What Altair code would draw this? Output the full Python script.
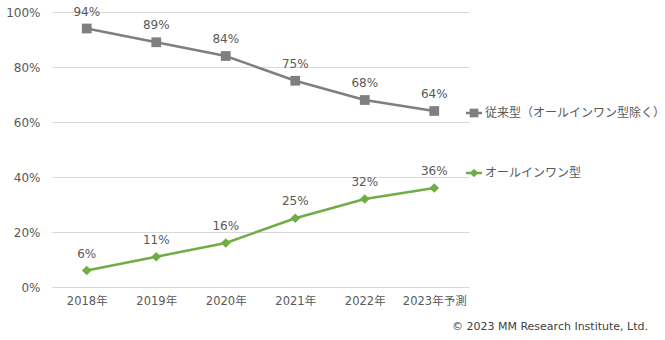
import altair as alt
import pandas as pd

years = ["2018年", "2019年", "2020年", "2021年", "2022年", "2023年予測"]
conventional = [94, 89, 84, 75, 68, 64]
allinone = [6, 11, 16, 25, 32, 36]
series_names = ["従来型（オールインワン型除く）", "オールインワン型"]
colors = ["#7f7f7f", "#70ad47"]
shapes = ["square", "diamond"]
credit = "© 2023 MM Research Institute, Ltd."

FONT = "DejaVu Sans, Noto Sans CJK JP, sans-serif"
TXT = "#595959"

rows = []
for y, a, b in zip(years, conventional, allinone):
    rows.append({"year": y, "series": series_names[0], "value": a})
    rows.append({"year": y, "series": series_names[1], "value": b})
df = pd.DataFrame(rows)

W, H = 417, 275

x = alt.X("year:N", sort=years,
          scale=alt.Scale(type="point", padding=0.5),
          axis=alt.Axis(title=None, labelAngle=0, ticks=False, domain=True,
                        domainColor="#d9d9d9", labelPadding=8, labelFontSize=11.5,
                        labelFont=FONT, labelColor=TXT, grid=False))
y = alt.Y("value:Q", scale=alt.Scale(domain=[0, 100]),
          axis=alt.Axis(title=None, values=[0, 20, 40, 60, 80, 100],
                        labelExpr="datum.value + '%'", ticks=False, domain=False,
                        gridColor="#d9d9d9", labelPadding=12, labelFontSize=12,
                        labelFont=FONT, labelColor=TXT))
color = alt.Color("series:N", scale=alt.Scale(domain=series_names, range=colors), legend=None)
shape = alt.Shape("series:N", scale=alt.Scale(domain=series_names, range=shapes), legend=None)

base = alt.Chart(df)
lines = base.mark_line(strokeWidth=2.5).encode(x=x, y=y, color=color)
pts = base.mark_point(filled=True, opacity=1, size=95).encode(x=x, y=y, color=color, shape=shape)
labels = base.transform_calculate(lbl="datum.value + '%'").mark_text(
    dy=-17, fontSize=12, font=FONT, color=TXT).encode(x=x, y=y, text="lbl:N")

legend_layers = []
leg_y = [101, 161]
for i, name in enumerate(series_names):
    ldf = pd.DataFrame({"series": [name]})
    lb = alt.Chart(ldf)
    legend_layers.append(lb.mark_rule(color=colors[i], strokeWidth=2.5).encode(
        x=alt.value(W - 3), x2=alt.value(W + 13), y=alt.value(leg_y[i])))
    legend_layers.append(lb.mark_point(filled=True, opacity=1, size=75, shape=shapes[i], color=colors[i]).encode(
        x=alt.value(W + 5), y=alt.value(leg_y[i])))
    legend_layers.append(lb.mark_text(align="left", baseline="middle", fontSize=12, font=FONT, color=TXT).encode(
        x=alt.value(W + 16), y=alt.value(leg_y[i]), text="series:N"))

cdf = pd.DataFrame({"t": [credit]})
credit_layer = alt.Chart(cdf).mark_text(align="right", baseline="middle", fontSize=11, font=FONT, color="#404040").encode(
    x=alt.value(596), y=alt.value(315), text="t:N")

chart = alt.layer(lines, pts, labels, *legend_layers, credit_layer).properties(
    width=W, height=H,
    autosize=alt.AutoSizeParams(type="none"),
    padding={"left": 52, "top": 12, "right": 196, "bottom": 53},
    background="white",
).configure_view(stroke=None)

chart.save("out.html", embed_options={"renderer": "svg", "actions": False})
